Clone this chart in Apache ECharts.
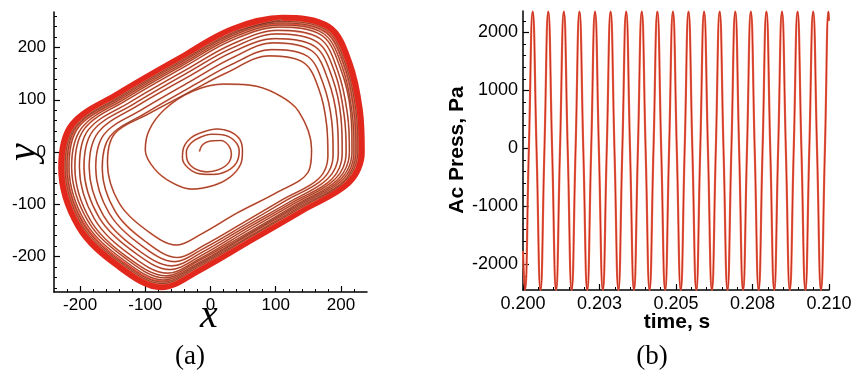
<!DOCTYPE html>
<html>
<head>
<meta charset="utf-8">
<script src="https://cdn.jsdelivr.net/npm/echarts@6/dist/echarts.min.js"></script>
<style>
  html, body { margin: 0; padding: 0; background: #fff; }
  #chart { width: 856px; height: 379px; }
</style>
</head>
<body>
<div id="chart"></div>
<script>
// (a) phase portrait: small starting loops, the growing turns, then the limit cycle
const innerSpiral = [
  [-17, 1], [-12, 14], [0, 21], [16, 22], [28, 12], [32, -4], [27, -22], [12, -34], [-6, -38],
  [-24, -32], [-35, -18], [-37, 0], [-30, 17], [-16, 28],
  [2, 34], [22, 32], [38, 20], [44, 2], [40, -20], [26, -36], [5, -43], [-16, -42], [-34, -31],
  [-43, -12], [-41, 9], [-30, 27], [-12, 38],
  [10, 44], [30, 39], [45, 24], [49, 2], [46, -24], [30, -48], [5, -64], [-29, -71], [-60, -58],
  [-86, -32], [-100, 4], [-94, 42], [-70, 82], [-28, 116], [20, 130], [60, 128], [100, 112], [135, 78]
];
const outerLoops = [
  [155, 5], [149, -40], [101, -78], [42, -116], [-14, -157], [-52, -178], [-98, -150], [-140, -98],
  [-158, -21], [-147, 35], [-95, 73], [-26, 119], [22, 150],
  [90, 184], [143, 171], [166, 121], [178, 53], [180, -8], [166, -51], [112, -90], [52, -134], [-9, -178],
  [-51, -202], [-100, -171], [-146, -114], [-166, -31], [-154, 30], [-100, 74], [-24, 129], [33, 168],
  [93, 196], [149, 183], [173, 130], [186, 58], [188, -6], [173, -51], [117, -92], [53, -139], [-11, -185],
  [-55, -210], [-107, -178], [-155, -118], [-176, -30], [-163, 34], [-107, 80], [-27, 138], [33, 180],
  [96, 209], [155, 194], [180, 139], [194, 63], [196, -4], [180, -51], [122, -95], [54, -143], [-13, -192],
  [-59, -218], [-114, -185], [-164, -122], [-186, -29], [-172, 38], [-114, 87], [-30, 147], [33, 191],
  [99, 217], [160, 202], [186, 145], [200, 67], [202, -3], [186, -52], [125, -97], [55, -147], [-14, -198],
  [-62, -225], [-119, -190], [-171, -125], [-194, -29], [-180, 41], [-119, 91], [-32, 154], [33, 199],
  [101, 226], [164, 210], [191, 151], [205, 70], [208, -2], [191, -52], [128, -99], [56, -151], [-16, -204],
  [-66, -232], [-124, -196], [-178, -128], [-201, -29], [-187, 43], [-124, 95], [-34, 160], [34, 207],
  [103, 233], [168, 217], [195, 156], [210, 73], [213, -1], [195, -53], [131, -101], [57, -155], [-18, -208],
  [-68, -237], [-129, -200], [-184, -131], [-208, -29], [-193, 45], [-129, 99], [-36, 166], [33, 214],
  [105, 239], [171, 223], [199, 161], [215, 76], [217, 0], [199, -53], [133, -102], [58, -157], [-18, -212],
  [-70, -241], [-131, -203], [-188, -132], [-213, -28], [-197, 47], [-131, 102], [-37, 170], [34, 219],
  [106, 243], [173, 227], [202, 163], [217, 77], [220, 0], [202, -54], [134, -104], [58, -159], [-19, -215],
  [-72, -245], [-134, -206], [-192, -134], [-217, -29], [-202, 48], [-134, 104], [-38, 173], [34, 223],
  [107, 247], [176, 230], [205, 166], [220, 78], [223, 0], [205, -55], [137, -105], [59, -162], [-20, -218],
  [-73, -249], [-137, -210], [-195, -137], [-220, -29], [-205, 49], [-137, 105], [-39, 176], [34, 226],
  [109, 250], [178, 233], [207, 168], [223, 79], [226, 0], [207, -55], [138, -107], [59, -164], [-20, -221],
  [-74, -252], [-138, -212], [-198, -138], [-223, -30], [-207, 49], [-138, 107], [-40, 178], [35, 229],
  [110, 253]
];
// closed limit cycle, started on the straight upper-left edge so the join is invisible
const limitCycle = [
  [-40, 180], [35, 232], [110, 253], [180, 236], [210, 170], [226, 80], [229, 0], [210, -56],
  [140, -108], [60, -166], [-20, -224], [-75, -255], [-140, -215], [-200, -140], [-226, -30],
  [-210, 50], [-140, 108], [-40, 180]
];
const xTicksA = [-200, -100, 0, 100, 200];
const xMinorA = [-220, -180, -160, -140, -120, -80, -60, -40, -20, 20, 40, 60, 80, 120, 140, 160, 180, 220];
const yTicksA = [-200, -100, 0, 100, 200];
const yMinorA = [-260, -240, -220, -180, -160, -140, -120, -80, -60, -40, -20, 20, 40, 60, 80, 120, 140, 160, 180, 220, 240, 260];

// (b) acoustic pressure: peak, down-crossing, trough, up-crossing for every cycle
const pressTime = [
  0.200000, 0.200062, 0.200190,
  0.200317, 0.200444, 0.200572, 0.200699,
  0.200826, 0.200953, 0.201081, 0.201208,
  0.201335, 0.201462, 0.201590, 0.201717,
  0.201845, 0.201972, 0.202100, 0.202227,
  0.202354, 0.202481, 0.202609, 0.202736,
  0.202863, 0.202990, 0.203118, 0.203245,
  0.203372, 0.203499, 0.203627, 0.203754,
  0.203881, 0.204008, 0.204136, 0.204263,
  0.204391, 0.204518, 0.204646, 0.204773,
  0.204900, 0.205027, 0.205155, 0.205282,
  0.205409, 0.205536, 0.205664, 0.205791,
  0.205918, 0.206045, 0.206173, 0.206300,
  0.206427, 0.206554, 0.206682, 0.206809,
  0.206937, 0.207064, 0.207192, 0.207319,
  0.207446, 0.207573, 0.207701, 0.207828,
  0.207955, 0.208082, 0.208210, 0.208337,
  0.208464, 0.208591, 0.208719, 0.208846,
  0.208973, 0.209100, 0.209228, 0.209355,
  0.209483, 0.209610, 0.209738, 0.209865,
  0.209985, 0.210000
];
const pressValue = [
  -1770, -2440, -40,
  2360, -40, -2440, -40,
  2360, -40, -2440, -40,
  2360, -40, -2440, -40,
  2360, -40, -2440, -40,
  2360, -40, -2440, -40,
  2360, -40, -2440, -40,
  2360, -40, -2440, -40,
  2360, -40, -2440, -40,
  2360, -40, -2440, -40,
  2360, -40, -2440, -40,
  2360, -40, -2440, -40,
  2360, -40, -2440, -40,
  2360, -40, -2440, -40,
  2360, -40, -2440, -40,
  2360, -40, -2440, -40,
  2360, -40, -2440, -40,
  2360, -40, -2440, -40,
  2360, -40, -2440, -40,
  2360, -40, -2440, -40,
  2360, 2200
];
const timeTicks = [0.2, 0.2025, 0.205, 0.2075, 0.21];
const timeLabels = ["0.200", "0.203", "0.205", "0.208", "0.210"];
const timeMinor = [0.2005, 0.201, 0.2015, 0.202, 0.203, 0.2035, 0.204, 0.2045, 0.2055, 0.206, 0.2065, 0.207,
  0.208, 0.2085, 0.209, 0.2095];
const pressTicks = [-2000, -1000, 0, 1000, 2000];
const pressMinor = [-2400, -2200, -1800, -1600, -1400, -1200, -800, -600, -400, -200, 200, 400, 600, 800,
  1200, 1400, 1600, 1800, 2200];

const tickFont = "Liberation Sans, Arial, sans-serif";

function majorAxis(gridIndex, min, max, ticks, fontSize, margin, position, formatter) {
  return {
    type: "value",
    gridIndex,
    position,
    min,
    max,
    axisLine: { show: true, onZero: false, lineStyle: { color: "#000", width: 1.5 } },
    splitLine: { show: false },
    axisTick: { show: true, inside: true, length: 6, customValues: ticks, lineStyle: { color: "#000", width: 1.2 } },
    axisLabel: {
      show: true, customValues: ticks, color: "#000", fontSize, fontFamily: tickFont, margin,
      formatter: formatter || ((v) => String(v)),
    },
  };
}
function minorAxis(gridIndex, min, max, ticks, position) {
  return {
    type: "value",
    gridIndex,
    position,
    min,
    max,
    axisLine: { show: false, onZero: false },
    splitLine: { show: false },
    axisTick: { show: true, inside: true, length: 3, customValues: ticks, lineStyle: { color: "#000", width: 1 } },
    axisLabel: { show: false },
  };
}

const trajectory = innerSpiral.concat(outerLoops);
const pressData = pressTime.map((t, i) => [t, pressValue[i]]);
const timeFormatter = (v) => timeLabels[timeTicks.findIndex((t) => Math.abs(t - v) < 1e-7)] || "";

const chart = echarts.init(document.getElementById("chart"), null, { renderer: "canvas" });
chart.setOption({
  animation: false,
  backgroundColor: "#fff",
  grid: [
    { left: 54, top: 12, width: 313, height: 280 },
    { left: 523, top: 11, width: 306, height: 279 },
  ],
  xAxis: [
    majorAxis(0, -240, 240, xTicksA, 17, 5, "bottom"),
    minorAxis(0, -240, 240, xMinorA, "bottom"),
    majorAxis(1, 0.2, 0.21, timeTicks, 18, 5, "bottom", timeFormatter),
    minorAxis(1, 0.2, 0.21, timeMinor, "bottom"),
  ],
  yAxis: [
    majorAxis(0, -268, 268, yTicksA, 17, 8, "left"),
    minorAxis(0, -268, 268, yMinorA, "left"),
    majorAxis(1, -2440, 2370, pressTicks, 18, 5, "left"),
    minorAxis(1, -2440, 2370, pressMinor, "left"),
  ],
  series: [
    {
      type: "line", xAxisIndex: 0, yAxisIndex: 0, data: limitCycle, smooth: 0.35,
      showSymbol: false, lineStyle: { color: "#e2271d", width: 10, join: "round" }, z: 2,
    },
    {
      type: "line", xAxisIndex: 0, yAxisIndex: 0, data: trajectory, smooth: 0.35,
      showSymbol: false, lineStyle: { color: "#ec7b58", width: 1.7 }, z: 3,
    },
    {
      type: "line", xAxisIndex: 0, yAxisIndex: 0, data: trajectory, smooth: 0.35,
      showSymbol: false, lineStyle: { color: "#7a2e26", width: 0.8 }, z: 4,
    },
    {
      type: "line", xAxisIndex: 2, yAxisIndex: 2, data: pressData, smooth: 0.5,
      showSymbol: false, lineStyle: { color: "#f0684a", width: 2.2 }, z: 3,
    },
    {
      type: "line", xAxisIndex: 2, yAxisIndex: 2, data: pressData, smooth: 0.5,
      showSymbol: false, lineStyle: { color: "#c0281e", width: 0.9 }, z: 4,
    },
  ],
  graphic: [
    { type: "text", x: 209, y: 316, style: { text: "x", font: "italic 40px 'Liberation Serif', serif", fill: "#000", align: "center", verticalAlign: "middle" } },
    { type: "text", x: 24, y: 152, rotation: Math.PI / 2, style: { text: "y", font: "italic 40px 'Liberation Serif', serif", fill: "#000", align: "center", verticalAlign: "middle" } },
    { type: "text", x: 457, y: 150, rotation: Math.PI / 2, style: { text: "Ac Press, Pa", font: "bold 21px 'Liberation Sans', Arial, sans-serif", fill: "#000", align: "center", verticalAlign: "middle" } },
    { type: "text", x: 677, y: 322, style: { text: "time, s", font: "bold 21px 'Liberation Sans', Arial, sans-serif", fill: "#000", align: "center", verticalAlign: "middle" } },
    { type: "text", x: 190, y: 357, style: { text: "(a)", font: "27px 'Liberation Serif', serif", fill: "#000", align: "center", verticalAlign: "middle" } },
    { type: "text", x: 652, y: 357, style: { text: "(b)", font: "27px 'Liberation Serif', serif", fill: "#000", align: "center", verticalAlign: "middle" } },
  ],
});
</script>
</body>
</html>
